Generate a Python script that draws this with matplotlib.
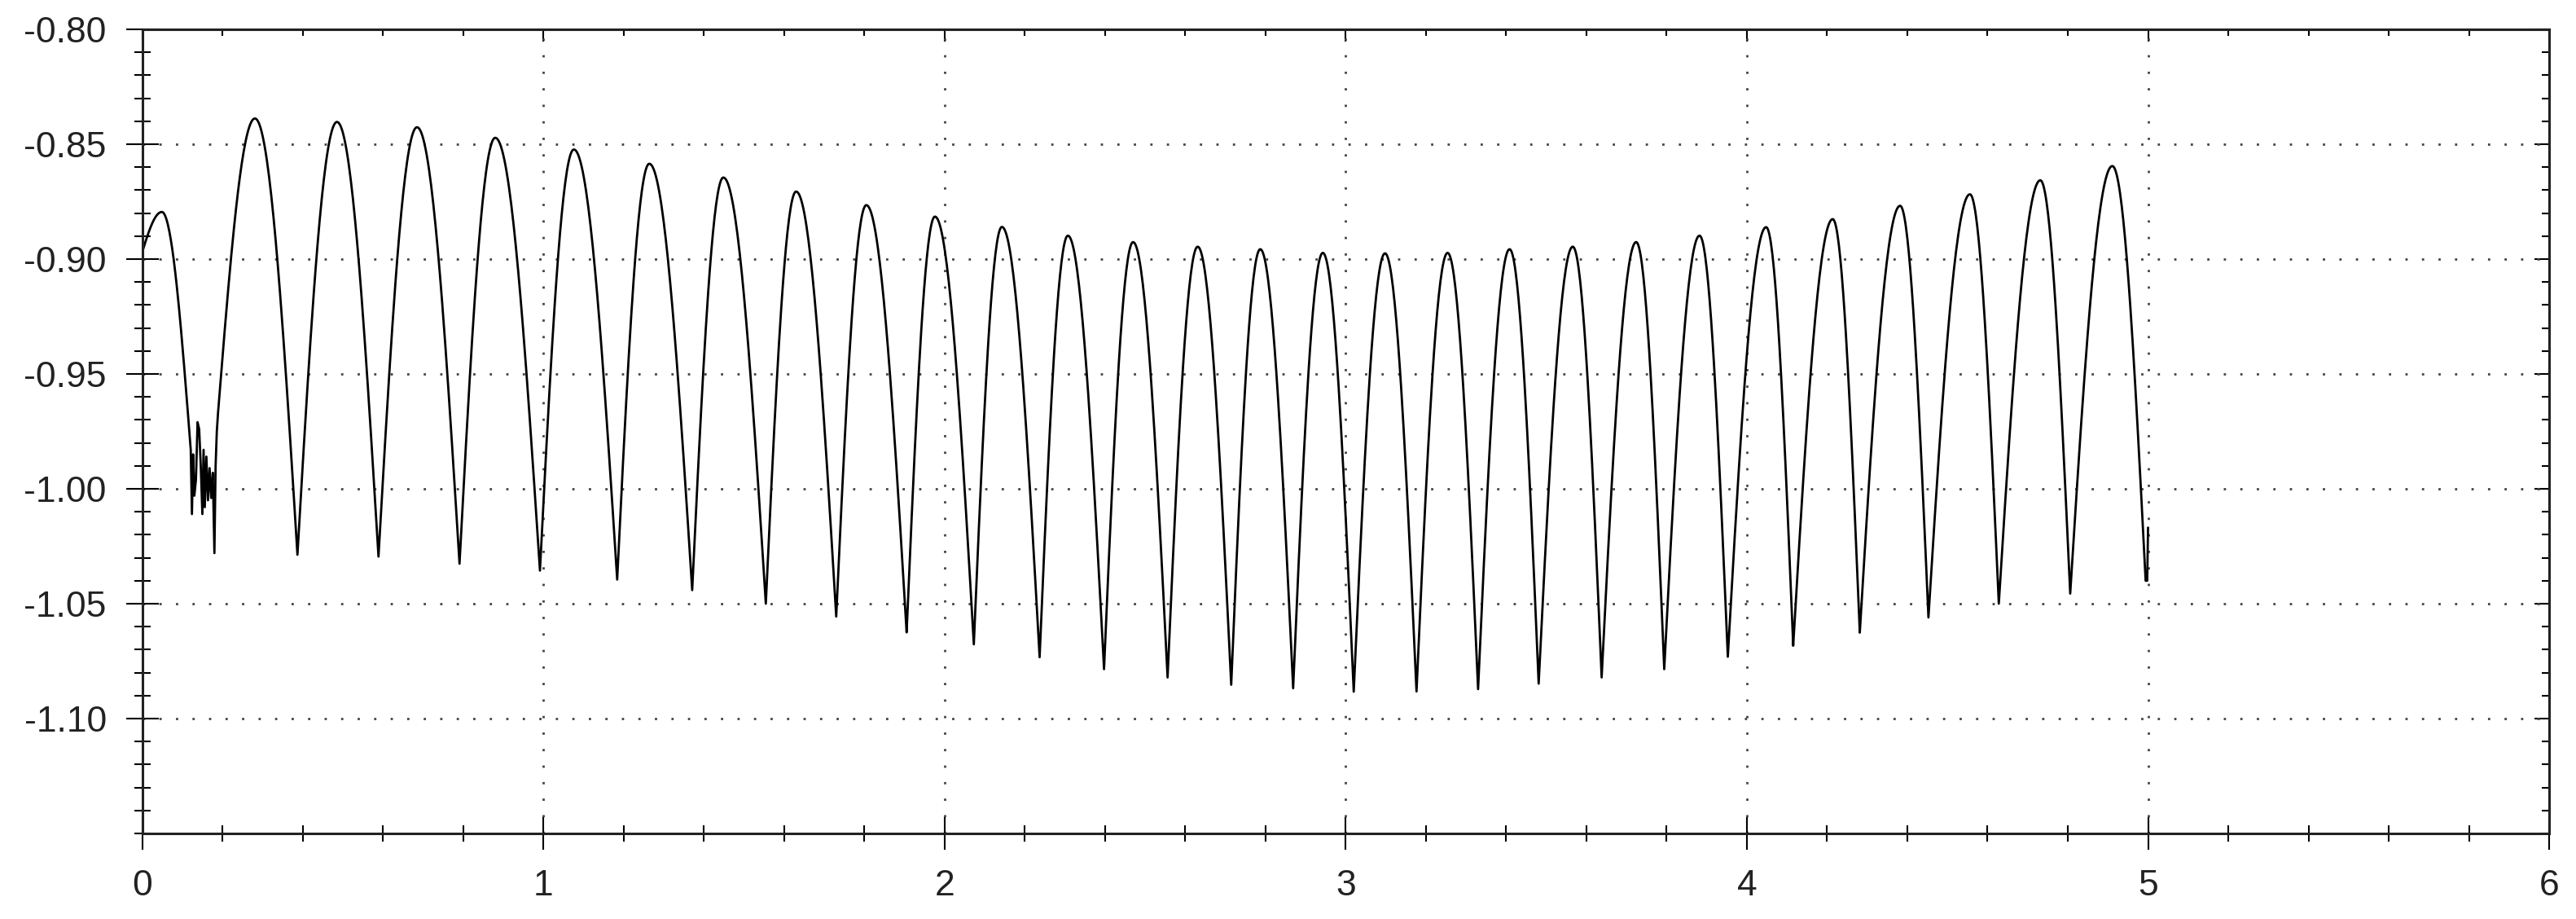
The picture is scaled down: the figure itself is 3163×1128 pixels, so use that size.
import numpy as np
import matplotlib.pyplot as plt
from matplotlib.ticker import MultipleLocator, FixedLocator, FormatStrFormatter, NullFormatter

plt.rcParams['font.family'] = ['Liberation Sans', 'DejaVu Sans']
plt.rcParams['axes.unicode_minus'] = False

# ---- values ----
# start of the record
start_x, start_y = 0.0, -0.897

# local maxima (time, value)
peak_x = [0.049, 0.281, 0.4855, 0.685, 0.880, 1.076, 1.264, 1.4486, 1.630, 1.805,
          1.976, 2.143, 2.3075, 2.470, 2.631, 2.787, 2.943, 3.098, 3.254, 3.4085,
          3.566, 3.724, 3.882, 4.048, 4.214, 4.382, 4.556, 4.7315, 4.911]
peak_y = [-0.8795, -0.8388, -0.8403, -0.8426, -0.8472, -0.8523, -0.8585, -0.8645, -0.8706, -0.8765,
          -0.8815, -0.8860, -0.8898, -0.8926, -0.8946, -0.8957, -0.8973, -0.8975, -0.8973, -0.8957,
          -0.8946, -0.8926, -0.8898, -0.8861, -0.8826, -0.8768, -0.8718, -0.8657, -0.8595]

# local minima after peaks 1..27
trough_x = [0.387, 0.589, 0.791, 0.9915, 1.184, 1.371, 1.5545, 1.730, 1.9055, 2.073,
            2.237, 2.3976, 2.556, 2.7146, 2.869, 3.020, 3.1765, 3.330, 3.481, 3.638,
            3.794, 3.9525, 4.1155, 4.2815, 4.4526, 4.628, 4.806]
trough_y = [-1.0287, -1.0295, -1.0326, -1.0356, -1.0395, -1.0441, -1.0500, -1.0556, -1.0625, -1.0677,
            -1.0733, -1.0785, -1.0821, -1.0853, -1.0868, -1.0883, -1.0882, -1.0872, -1.0848, -1.0821,
            -1.0785, -1.0731, -1.0683, -1.0626, -1.0560, -1.0500, -1.0456]

# jittery stretch in the first trough
noise_x = [0.121, 0.124, 0.127, 0.130, 0.134, 0.138, 0.142, 0.146, 0.150, 0.153,
           0.156, 0.160, 0.164, 0.168, 0.172, 0.176, 0.180, 0.183, 0.186, 0.189]
noise_y = [-0.983, -1.011, -0.985, -1.003, -0.996, -0.971, -0.974, -0.990, -1.011, -0.983,
           -1.008, -0.986, -1.005, -0.991, -1.004, -0.993, -1.028, -0.990, -0.975, -0.967]

# end of the record
tail_x = [4.994, 4.998, 5.000]
tail_y = [-1.040, -1.040, -1.017]

# labelled ticks
y_major = [-1.10, -1.05, -1.00, -0.95, -0.90, -0.85, -0.80]


def arch(x0, y0, x1, y1, n=40):
    # rounded at the top, steep at the bottom
    t = np.linspace(0, 1, n)
    xs = x0 + (x1 - x0) * t
    if y1 > y0:
        ys = y0 + (y1 - y0) * np.sin(t * np.pi / 2)
    else:
        ys = y1 + (y0 - y1) * np.cos(t * np.pi / 2)
    return list(xs), list(ys)


xs, ys = [], []


def add(seg):
    xs.extend(seg[0])
    ys.extend(seg[1])


add(arch(start_x, start_y, peak_x[0], peak_y[0]))
add(arch(peak_x[0], peak_y[0], noise_x[0], noise_y[0]))
add((noise_x, noise_y))
add(arch(noise_x[-1], noise_y[-1], peak_x[1], peak_y[1]))
for k in range(1, len(peak_x) - 1):
    add(arch(peak_x[k], peak_y[k], trough_x[k - 1], trough_y[k - 1]))
    add(arch(trough_x[k - 1], trough_y[k - 1], peak_x[k + 1], peak_y[k + 1]))
add(arch(peak_x[-1], peak_y[-1], tail_x[0], tail_y[0]))
add((tail_x, tail_y))

# ---- plot ----
fig = plt.figure(figsize=(31.63, 11.28), dpi=100)
ax = fig.add_axes([0.0552, 0.0931, 0.9344, 0.875])

ax.plot(xs, ys, color='black', lw=2.0)

ax.set_xlim(0, 6)
ax.set_ylim(-1.15, -0.80)
ax.xaxis.set_major_locator(MultipleLocator(1))
ax.xaxis.set_minor_locator(MultipleLocator(0.2))
ax.yaxis.set_major_locator(FixedLocator(y_major))
ax.yaxis.set_minor_locator(MultipleLocator(0.01))
ax.yaxis.set_major_formatter(FormatStrFormatter('%.2f'))
ax.xaxis.set_major_formatter(FormatStrFormatter('%d'))

ax.grid(True, which='major', color='#444444', lw=2.0, linestyle=(0, (1, 6.3)))

ax.tick_params(which='major', direction='inout', length=29, width=1.5,
               labelsize=32, pad=17, colors='black', labelcolor='#222222')
ax.tick_params(which='minor', direction='inout', length=15, width=1.5, colors='black')

for s in ax.spines.values():
    s.set_linewidth(2.2)
    s.set_color('#222222')

# short inward ticks on the top and right edges
secx = ax.secondary_xaxis('top')
secx.xaxis.set_major_locator(MultipleLocator(1))
secx.xaxis.set_minor_locator(MultipleLocator(0.2))
secx.xaxis.set_major_formatter(NullFormatter())
secx.tick_params(which='major', direction='in', length=11, width=1.5)
secx.tick_params(which='minor', direction='in', length=6, width=1.5)

secy = ax.secondary_yaxis('right')
secy.yaxis.set_major_locator(FixedLocator(y_major))
secy.yaxis.set_minor_locator(MultipleLocator(0.01))
secy.yaxis.set_major_formatter(NullFormatter())
secy.tick_params(which='major', direction='in', length=13, width=1.5)
secy.tick_params(which='minor', direction='in', length=6.5, width=1.5)
for sa in (secx, secy):
    for s in sa.spines.values():
        s.set_linewidth(2.2)
        s.set_color('#222222')

fig.savefig('out.png', dpi=100)
